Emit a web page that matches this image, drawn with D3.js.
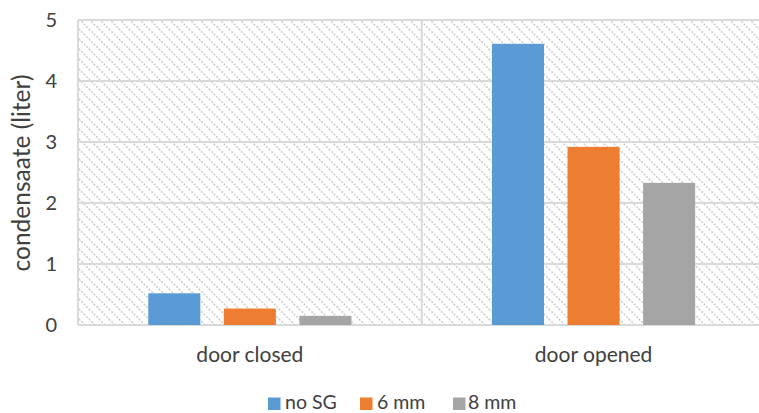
<!DOCTYPE html>
<html><head><meta charset="utf-8">
<script src="https://cdn.jsdelivr.net/npm/d3@7"></script>
<style>body{margin:0;background:#fff;overflow:hidden}svg{display:block}text{font-family:Lato,"Open Sans",sans-serif;fill:#404040}</style>
</head><body><svg id="c" width="759" height="413"></svg>
<script>
const categories = ["door closed", "door opened"];
const seriesNames = ["no SG", "6 mm", "8 mm"];
const noSG = [0.52, 4.61];
const mm6 = [0.27, 2.92];
const mm8 = [0.15, 2.33];
const yTicks = [0, 1, 2, 3, 4, 5];
const colors = ["#5b9bd5", "#ed7d31", "#a5a5a5"];
const seriesValues = [noSG, mm6, mm8];

const svg = d3.select("#c");
const pLeft = 78, pRight = 765.4, pTop = 20, pBottom = 325;
const x = d3.scaleBand().domain(categories).range([pLeft, pRight]).padding(0);
const xs = d3.scaleBand().domain(seriesNames).range([0, x.bandwidth()]).paddingInner(0.311).paddingOuter(0.93);
const y = d3.scaleLinear().domain([0, 5]).range([pBottom, pTop]);

const defs = svg.append("defs");
const P = 10;
const pat = defs.append("pattern").attr("id","hatch").attr("patternUnits","userSpaceOnUse")
  .attr("width",P).attr("height",P);
pat.append("path").attr("d",`M-1,-1 L${P+1},${P+1} M${-P-1},-1 L1,${P+1} M${P-1},-1 L${2*P+1},${P+1}`)
  .attr("stroke","#cccccc").attr("stroke-width",1.5).attr("stroke-dasharray","2,1.4");

svg.append("rect").attr("x",pLeft).attr("y",pTop).attr("width",pRight-pLeft).attr("height",pBottom-pTop)
  .attr("fill","url(#hatch)");

// gridlines
svg.append("g").selectAll("line").data(yTicks).join("line")
  .attr("x1",pLeft).attr("x2",pRight).attr("y1",d=>y(d)).attr("y2",d=>y(d))
  .attr("stroke","#d9d9d9").attr("stroke-width",2);
// vertical lines at category boundaries
const bounds = categories.map(c=>x(c)).concat([x(categories[categories.length-1])+x.bandwidth()]);
svg.append("g").selectAll("line").data(bounds).join("line")
  .attr("x1",d=>d).attr("x2",d=>d).attr("y1",pTop).attr("y2",pBottom)
  .attr("stroke","#d9d9d9").attr("stroke-width",2);

// bars
seriesNames.forEach((s,i)=>{
  svg.append("g").selectAll("rect").data(seriesValues[i]).join("rect")
    .attr("x",(d,j)=>x(categories[j])+xs(s))
    .attr("width",xs.bandwidth())
    .attr("y",d=>y(d)).attr("height",d=>y(0)-y(d))
    .attr("fill",colors[i]);
});

// y axis labels
const yAxis = d3.axisLeft(y).tickValues(yTicks).tickSize(0).tickPadding(0).tickFormat(d3.format("d"));
const ga = svg.append("g").attr("transform",`translate(57,0)`).call(yAxis);
ga.select(".domain").remove();
ga.selectAll("text").attr("font-size",20).attr("fill","#404040").style("font-family","Lato");

// x axis labels
const xAxis = d3.axisBottom(x).tickSize(0).tickPadding(0);
const gx = svg.append("g").attr("transform",`translate(0,347)`).call(xAxis);
gx.select(".domain").remove();
gx.selectAll("text").attr("font-size",21).attr("fill","#404040").style("font-family","Lato");

// y title
svg.append("text").attr("transform","translate(20,173) rotate(-90)")
  .attr("text-anchor","middle").attr("dominant-baseline","central")
  .attr("font-size",24.5).text("condensaate (liter)");

// legend
const legendX = [268, 360, 453];
const lg = svg.append("g").selectAll("g").data(seriesNames).join("g")
  .attr("transform",(d,i)=>`translate(${legendX[i]},397.5)`);
lg.append("rect").attr("width",12.5).attr("height",12.5).attr("fill",(d,i)=>colors[i]);
lg.append("text").attr("x",(d,i)=>i==2?15:17).attr("y",11.5)
  .attr("font-size",19.5).text(d=>d);
</script></body></html>
